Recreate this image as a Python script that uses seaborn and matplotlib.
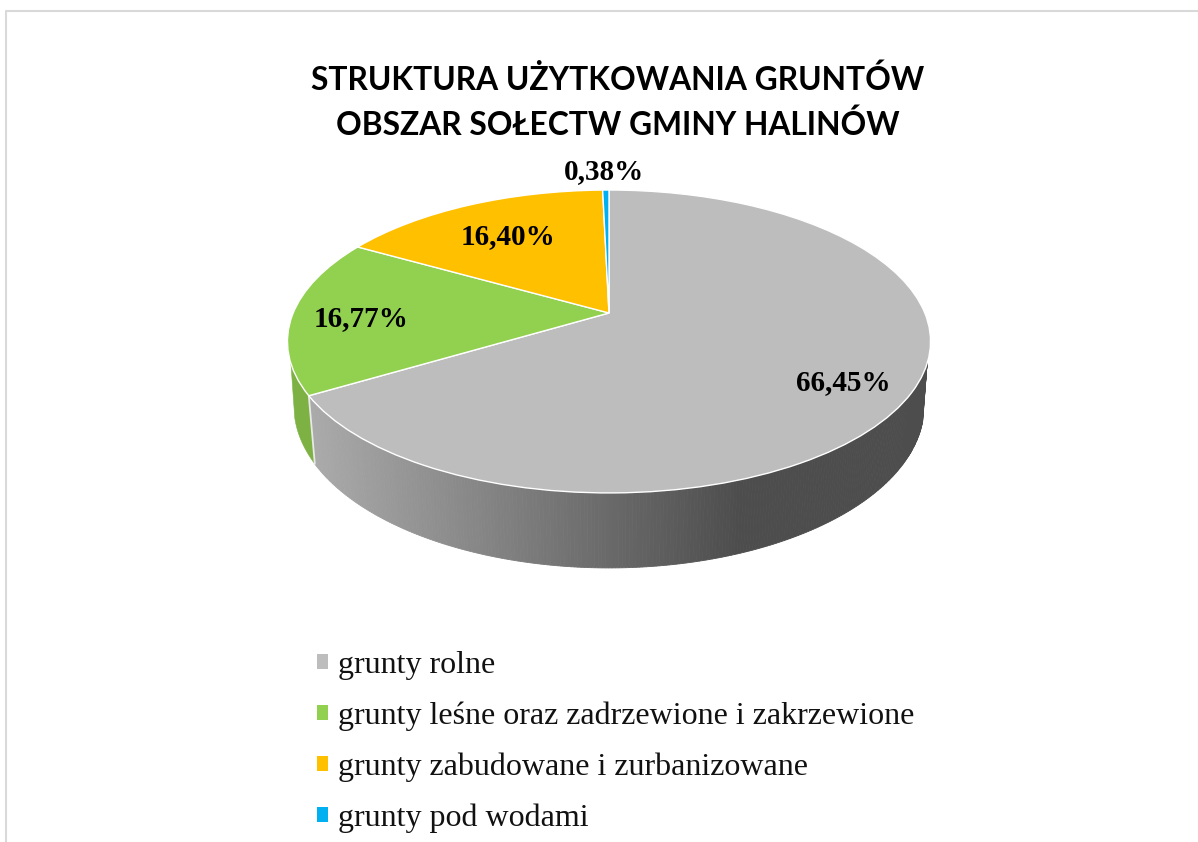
import numpy as np
import matplotlib
matplotlib.use("Agg")
import matplotlib.pyplot as plt
import seaborn as sns
from matplotlib.lines import Line2D
from matplotlib.patches import Patch
from matplotlib.transforms import Transform

categories = ["grunty rolne", "grunty leśne oraz zadrzewione i zakrzewione",
              "grunty zabudowane i zurbanizowane", "grunty pod wodami"]
values = [66.45, 16.77, 16.40, 0.38]
value_labels = ["66,45%", "16,77%", "16,40%", "0,38%"]
colors = ["#BDBDBD", "#92D050", "#FFC000", "#00B0F0"]
title_lines = ["STRUKTURA UŻYTKOWANIA GRUNTÓW", "OBSZAR SOŁECTW GMINY HALINÓW"]

sns.set_theme(style="white")

# projection of the flat pie onto the page (perspective tilt)
CX, CY, A, B, C = 609.0, 313.0, 146.1, 0.188, 315.8


class Tilt(Transform):
    input_dims = output_dims = 2
    is_separable = False
    has_inverse = False

    def transform_non_affine(self, xy):
        xy = np.asarray(xy, float)
        w = 1 + B * xy[:, 1]
        return np.column_stack([CX + C * xy[:, 0] / w, CY - A * xy[:, 1] / w])


def rim(theta_deg, lower=False):
    t = np.radians(np.atleast_1d(theta_deg))
    pts = Tilt().transform_non_affine(np.column_stack([np.sin(t), np.cos(t)]))
    if lower:
        pts = np.column_stack([CX + 0.98 * (pts[:, 0] - CX), 1.07 * pts[:, 1] + 40.5])
    return pts


fig = plt.figure(figsize=(11.98, 8.42), dpi=100, facecolor="white")
ax = fig.add_axes([0, 0, 1, 1])

wedges, _ = ax.pie(values, colors=colors, startangle=90, counterclock=False,
                   wedgeprops={"edgecolor": "white", "linewidth": 1.0})
ax.set_aspect("auto")
ax.set_xlim(0, 1198)
ax.set_ylim(842, 0)
ax.axis("off")
tilt = Tilt() + ax.transData
for w in wedges:
    w.set_transform(tilt)
    w.set_zorder(5)

# side wall of the disc: the upper rim stops where the wall's outline leaves it
RIGHT_TOP, RIGHT_LOW, LEFT_TOP, LEFT_LOW = 109, 106, 251, 255
SHADE_DARK_X, SHADE_LIGHT_X = 740, 310
grey_end = values[0] / sum(values) * 360
steps = np.linspace(RIGHT_LOW, grey_end, 260)
shades = sns.blend_palette(["#4D4D4D", "#ABABAB"], 256)
for i in range(len(steps) - 1):
    pair = steps[i:i + 2]
    poly = np.vstack([rim(np.maximum(pair, RIGHT_TOP)), rim(pair[::-1], lower=True)])
    frac = np.clip((SHADE_DARK_X - poly[:, 0].mean()) / (SHADE_DARK_X - SHADE_LIGHT_X), 0, 1)
    ax.fill(poly[:, 0], poly[:, 1], color=shades[int(frac * 255)], lw=0.6, zorder=2)

arc_top = np.linspace(grey_end, LEFT_TOP, 20)
arc_low = np.linspace(LEFT_LOW, grey_end, 30)
poly = np.vstack([rim(arc_top), rim(arc_low, lower=True)])
ax.fill(poly[:, 0], poly[:, 1], color="#7DB143", lw=0.4, zorder=2)
edge = np.vstack([rim(grey_end), rim(grey_end, lower=True)])
ax.plot(edge[:, 0], edge[:, 1], color="#E8E8E8", lw=1.3, zorder=3)

# frame of the page
ax.add_line(Line2D([6, 6, 1198], [842, 11, 11], color="#D9D9D9", lw=1.5, zorder=1))

# value labels
label_xy = [(843, 383), (361, 319), (508, 237), (604, 172)]
for (x, y), s in zip(label_xy, value_labels):
    ax.text(x, y, s, ha="center", va="center", family="Liberation Serif",
            weight="bold", fontsize=21, color="black", zorder=6)

# title
for y, s in zip((80, 125), title_lines):
    ax.text(618, y, s, ha="center", va="center", family="Lato", weight="bold",
            fontsize=22.9, color="black", zorder=6)

handles = [Patch(facecolor=c, edgecolor="none") for c in colors]
ax.legend(handles, categories, loc="center left", bbox_to_anchor=(317, 742),
          bbox_transform=ax.transData, frameon=False, borderpad=0, borderaxespad=0,
          prop={"family": "Liberation Serif", "size": 23}, handlelength=0.344,
          handleheight=0.344, handletextpad=0.31, labelspacing=0.68, labelcolor="#111111")

fig.savefig("out.png", dpi=100)
